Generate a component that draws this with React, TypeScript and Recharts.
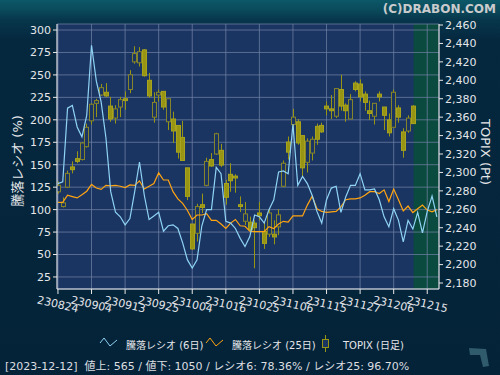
import React from "react";
import {
  ComposedChart,
  Bar,
  Line,
  XAxis,
  YAxis,
  CartesianGrid,
  ReferenceArea,
} from "recharts";

// x tick labels, one every 7 trading days
const tickLabels = [
  "230824", "230904", "230913", "230925", "231004", "231016",
  "231025", "231106", "231115", "231127", "231206", "231215",
];

// TOPIX daily candles (index 0 = 2023-08-24 ... 74 = 2023-12-12)
const topixOpen = [
  2279, 2263, 2284, 2306, 2315, 2314, 2328, 2356, 2375, 2384, 2387, 2372, 2359, 2371, 2380,
  2390, 2420, 2419, 2433, 2400, 2360, 2384, 2388, 2355, 2358, 2351, 2338, 2305, 2244, 2234,
  2265, 2286, 2314, 2320, 2324, 2288, 2298, 2296, 2265, 2247, 2246, 2245, 2256, 2236, 2233,
  2233, 2241, 2285, 2333, 2352, 2355, 2340, 2311, 2321, 2350, 2351, 2372, 2369, 2361, 2390,
  2373, 2358, 2397, 2396, 2385, 2367, 2361, 2385, 2371, 2357, 2349, 2370, 2344, 2345, 2372,
];
const topixHigh = [
  2290, 2273, 2302, 2312, 2323, 2333, 2353, 2375, 2380, 2396, 2397, 2382, 2373, 2382, 2388,
  2411, 2437, 2436, 2434, 2408, 2387, 2390, 2388, 2380, 2366, 2351, 2356, 2305, 2244, 2266,
  2277, 2316, 2321, 2343, 2331, 2292, 2310, 2298, 2274, 2268, 2252, 2248, 2268, 2245, 2260,
  2248, 2260, 2313, 2339, 2369, 2358, 2340, 2337, 2339, 2353, 2354, 2377, 2384, 2391, 2406,
  2375, 2385, 2399, 2401, 2388, 2378, 2375, 2388, 2371, 2364, 2390, 2373, 2348, 2362, 2373,
];
const topixLow = [
  2277, 2262, 2283, 2299, 2310, 2313, 2327, 2352, 2360, 2383, 2382, 2355, 2353, 2360, 2368,
  2386, 2418, 2415, 2404, 2381, 2354, 2377, 2368, 2346, 2332, 2315, 2313, 2270, 2216, 2225,
  2256, 2285, 2306, 2319, 2306, 2265, 2279, 2278, 2257, 2243, 2234, 2196, 2248, 2217, 2230,
  2222, 2232, 2284, 2314, 2341, 2330, 2295, 2300, 2313, 2330, 2343, 2362, 2358, 2359, 2367,
  2355, 2358, 2388, 2377, 2367, 2357, 2352, 2377, 2346, 2339, 2349, 2354, 2316, 2343, 2353,
];
const topixClose = [
  2286, 2267, 2299, 2303, 2312, 2332, 2349, 2374, 2378, 2392, 2383, 2358, 2369, 2379, 2378,
  2406, 2429, 2431, 2405, 2383, 2376, 2387, 2371, 2380, 2345, 2322, 2313, 2274, 2217, 2263,
  2262, 2312, 2307, 2342, 2308, 2273, 2291, 2294, 2263, 2255, 2238, 2240, 2253, 2223, 2256,
  2230, 2254, 2310, 2322, 2360, 2332, 2305, 2334, 2336, 2336, 2344, 2369, 2367, 2391, 2372,
  2367, 2379, 2390, 2382, 2376, 2364, 2375, 2382, 2362, 2343, 2387, 2360, 2324, 2359, 2353,
];

// 騰落レシオ (6日)
const ratio6 = [
  129, 131, 213, 216, 192, 181, 205, 283, 243, 220, 180, 120, 97, 92, 83, 90,
  120, 153, 116, 89, 93, 97, 76, 82, 83, 79, 63, 44, 35, 44, 82, 100,
  100, 147, 140, 87, 85, 79, 68, 59, 70, 94, 92, 85, 100, 111, 142, 143,
  140, 195, 127, 137, 129, 116, 98, 85, 111, 124, 126, 97, 114, 127, 127, 140,
  122, 122, 123, 111, 92, 81, 101, 88, 64, 88, 78.36, 97, 74, 98, 115, 92,
];

// 騰落レシオ (25日)
const ratio25 = [
  108, 108, 116, 114.5, 113, 116.5, 120.5, 128, 124, 122.5, 127, 126.5, 127, 126, 124.5, 127.5,
  127, 132, 123, 126, 129, 141, 133, 133, 120, 112, 107, 99, 89, 94, 94, 95.5,
  88, 88, 84, 79, 85, 89, 82, 81.5, 76, 75.5, 75.5, 75.5, 81, 79, 84, 87,
  86, 93, 93, 93, 105, 115, 101, 98, 97, 97.5, 98, 103, 111, 112, 112, 113,
  116, 120, 120, 118, 122, 109, 123, 111, 98.5, 104, 96.7, 101, 105, 99.5, 97.5, 100,
];

const leftTicks = [25, 50, 75, 100, 125, 150, 175, 200, 225, 250, 275, 300];
const rightTicks = [
  2180, 2200, 2220, 2240, 2260, 2280, 2300, 2320, 2340, 2360, 2380, 2400, 2420, 2440, 2460,
];

const data = ratio6.map((r6, i) => ({
  idx: i,
  r6,
  r25: ratio25[i],
  open: topixOpen[i],
  high: topixHigh[i],
  low: topixLow[i],
  close: topixClose[i],
  range: topixOpen[i] != null ? [topixLow[i], topixHigh[i]] : null,
}));

const FONT = '"DejaVu Sans", "Noto Sans CJK JP", sans-serif';
const TEXT = "#e4e6ea";
const OLIVE = "#989514";
const PLOT_BG = "#1b3562";

const Candle = (props: any) => {
  const { x, y, width, height, payload } = props;
  if (!payload || payload.open == null || !isFinite(y) || !isFinite(height)) return null;
  const { open, close, high, low } = payload;
  const top = Math.min(y, y + height);
  const h = Math.abs(height);
  const k = high === low ? 0 : h / (high - low);
  const yOf = (v: number) => top + (high - v) * k;
  const cx = Math.round(x + width / 2) + 0.5;
  const up = close >= open;
  const bTop = yOf(Math.max(open, close));
  const bH = Math.max(1.5, Math.abs(yOf(open) - yOf(close)));
  return (
    <g>
      <line x1={cx} x2={cx} y1={yOf(high)} y2={yOf(low)} stroke={OLIVE} strokeWidth={1} />
      <rect
        x={cx - 2}
        y={bTop}
        width={4}
        height={bH}
        fill={up ? PLOT_BG : OLIVE}
        stroke={up ? "#86842a" : "#a8a41e"}
        strokeWidth={1}
      />
    </g>
  );
};

const XTick = (props: any) => {
  const { x, y, payload } = props;
  const label = tickLabels[Math.round(payload.value / 7)];
  return (
    <g transform={`translate(${x},${y + 8}) rotate(13)`}>
      <text textAnchor="middle" dy={4} fill={TEXT} fontSize={11} fontFamily={FONT}>
        {label}
      </text>
    </g>
  );
};

const fmtComma = (v: number) => v.toLocaleString("en-US");

export default function App() {
  return (
    <div
      style={{
        position: "absolute",
        left: 0,
        top: 0,
        width: 500,
        height: 375,
        background:
          "linear-gradient(180deg, #0c5868 0px, #0a4a5b 10px, #07364b 20px, #05283f 40px, #042338 100%)",
        fontFamily: FONT,
      }}
    >
      <ComposedChart
        width={500}
        height={375}
        data={data}
        margin={{ top: 24, right: 0, bottom: 56, left: 0 }}
      >
        <CartesianGrid
          yAxisId="left"
          fill={PLOT_BG}
          fillOpacity={1}
          horizontal={false}
          vertical={false}
          zIndex={-300}
        />
        <ReferenceArea
          yAxisId="left"
          x1={74.15}
          x2={79.45}
          fill="#0b4a3e"
          fillOpacity={1}
          stroke="none"
          zIndex={-200}
        />
        <CartesianGrid
          yAxisId="left"
          fill="none"
          stroke="#6f80a3"
          strokeOpacity={0.75}
          zIndex={-100}
        />
        <XAxis
          dataKey="idx"
          type="number"
          domain={[-0.2, 79.45]}
          allowDataOverflow
          ticks={tickLabels.map((_, k) => k * 7)}
          interval={0}
          height={30}
          tick={<XTick />}
          tickSize={5}
          axisLine={{ stroke: "#e8e8e8" }}
          tickLine={{ stroke: "#e8e8e8" }}
        />
        <YAxis
          yAxisId="left"
          width={57}
          domain={[11.6, 306.7]}
          allowDataOverflow
          ticks={leftTicks}
          interval={0}
          tickSize={4}
          tick={{ fill: TEXT, fontSize: 11, fontFamily: FONT }}
          axisLine={{ stroke: "#e8e8e8" }}
          tickLine={{ stroke: "#e8e8e8" }}
        />
        <YAxis
          yAxisId="right"
          orientation="right"
          width={61}
          domain={[2173.5, 2461.1]}
          allowDataOverflow
          ticks={rightTicks}
          interval={0}
          tickSize={4}
          tickFormatter={fmtComma}
          tick={{ fill: TEXT, fontSize: 11, fontFamily: FONT }}
          axisLine={{ stroke: "#e8e8e8" }}
          tickLine={{ stroke: "#e8e8e8" }}
        />
        <Bar
          yAxisId="right"
          dataKey="range"
          barSize={5}
          shape={(p: any) => <Candle {...p} />}
          isAnimationActive={false}
        />
        <Line
          yAxisId="left"
          dataKey="r25"
          type="linear"
          stroke="#ffa412"
          strokeWidth={1.2}
          dot={false}
          isAnimationActive={false}
        />
        <Line
          yAxisId="left"
          dataKey="r6"
          type="linear"
          stroke="#8fd3f5"
          strokeWidth={1.2}
          dot={false}
          isAnimationActive={false}
        />
      </ComposedChart>

      <svg
        width={500}
        height={375}
        style={{ position: "absolute", left: 0, top: 0, pointerEvents: "none" }}
        fontFamily={FONT}
      >
        <text x={496} y={13} textAnchor="end" fill="#c9cbcd" fontSize={12} fontWeight="bold">
          (C)DRABON.COM
        </text>
        <text
          transform="translate(17,161) rotate(-90)"
          textAnchor="middle"
          dominantBaseline="central"
          fill={TEXT}
          fontSize={13}
        >
          騰落レシオ (%)
        </text>
        <text
          transform="translate(485,152) rotate(90)"
          textAnchor="middle"
          dominantBaseline="central"
          fill={TEXT}
          fontSize={13}
        >
          TOPIX (Pt)
        </text>

        {/* legend */}
        <polyline points="100,343 104,338 110,346 117,340" fill="none" stroke="#8fd3f5" strokeWidth={1} />
        <text x={126} y={349} fill={TEXT} fontSize={10}>
          騰落レシオ (6日)
        </text>
        <polyline points="206,343 210,338 216,346 223,340" fill="none" stroke="#ffa412" strokeWidth={1} />
        <text x={232} y={349} fill={TEXT} fontSize={10}>
          騰落レシオ (25日)
        </text>
        <line x1={325.5} x2={325.5} y1={335} y2={352} stroke={OLIVE} />
        <rect x={322.5} y={339.5} width={6} height={8} fill={PLOT_BG} stroke={OLIVE} />
        <text x={343} y={349} fill={TEXT} fontSize={10}>
          TOPIX (日足)
        </text>

        {/* footer */}
        <text x={5} y={370} fill="#dcdee0" fontSize={11} style={{ whiteSpace: "pre" }}>
          {"[2023-12-12]  値上: 565 / 値下: 1050 / レシオ6: 78.36% / レシオ25: 96.70%"}
        </text>

        {/* small logo mark */}
        <path d="M469,348 L486,349 L489,366 L483,367 L480,355 L470,355 Z" fill="#2f5b6c" />
      </svg>
    </div>
  );
}
